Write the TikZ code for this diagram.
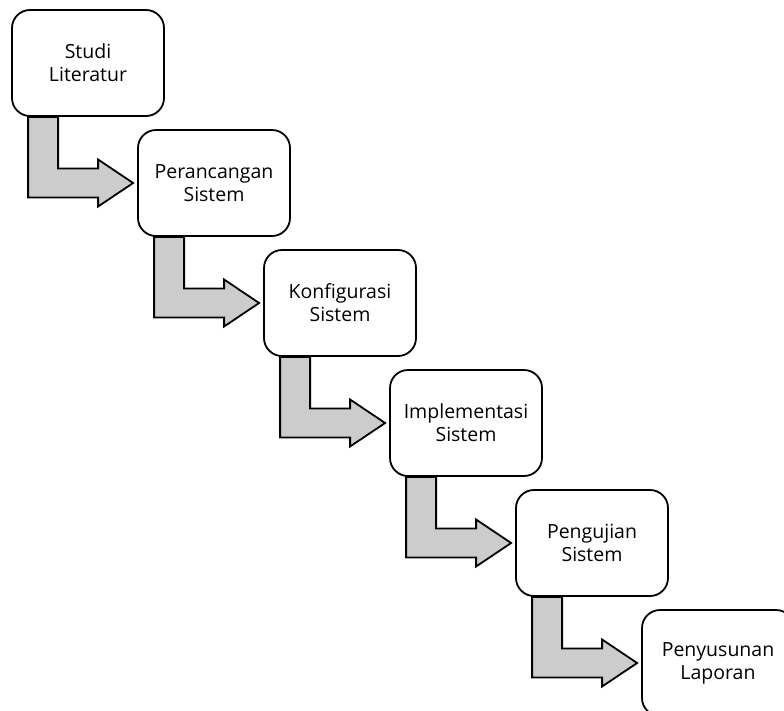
\documentclass[tikz,border=0pt]{standalone}
\usepackage{fontspec}
\setmainfont{Open Sans}
\usetikzlibrary{calc}
\tikzset{
  stepbox/.style={draw=black, line width=1.8pt, fill=white, rounded corners=18pt,
    minimum width=152pt, minimum height=106pt, inner sep=0pt, align=center,
    font=\fontsize{19.5}{23}\selectfont},
  bentarrow/.style={draw=black, line width=1.8pt, fill=black!20, line join=miter},
}
\begin{document}
\begin{tikzpicture}[x=1pt, y=-1pt]
\clip (0,0) rectangle (784,710);
\fill[white] (0,0) rectangle (784,710);
\node[stepbox] (b0) at (88,63) {Studi\\Literatur};
\node[stepbox] (b1) at (214,183) {Perancangan\\Sistem};
\node[stepbox] (b2) at (340,303) {Konfigurasi\\Sistem};
\node[stepbox] (b3) at (466,423) {Implementasi\\Sistem};
\node[stepbox] (b4) at (592,543) {Pengujian\\Sistem};
\node[stepbox] (b5) at (718,663) {Penyusunan\\Laporan};
\foreach \a/\b in {b0/b1, b1/b2, b2/b3, b3/b4, b4/b5}{
  \coordinate (s1) at ($(\a.south west)+(17,0)$);
  \coordinate (s2) at ($(\a.south west)+(47,0)$);
  \coordinate (h1) at ($(\b.west)+(-39,-14.5)$);
  \coordinate (h2) at ($(\b.west)+(-39,-23.5)$);
  \coordinate (tp) at ($(\b.west)+(-4,0)$);
  \coordinate (h3) at ($(\b.west)+(-39,23.5)$);
  \coordinate (h4) at ($(\b.west)+(-39,14.5)$);
  \draw[bentarrow] (s1) -- (s2) -- (s2 |- h1) -- (h1) -- (h2) -- (tp) -- (h3) -- (h4) -- (s1 |- h4) -- cycle;
}
\end{tikzpicture}
\end{document}
